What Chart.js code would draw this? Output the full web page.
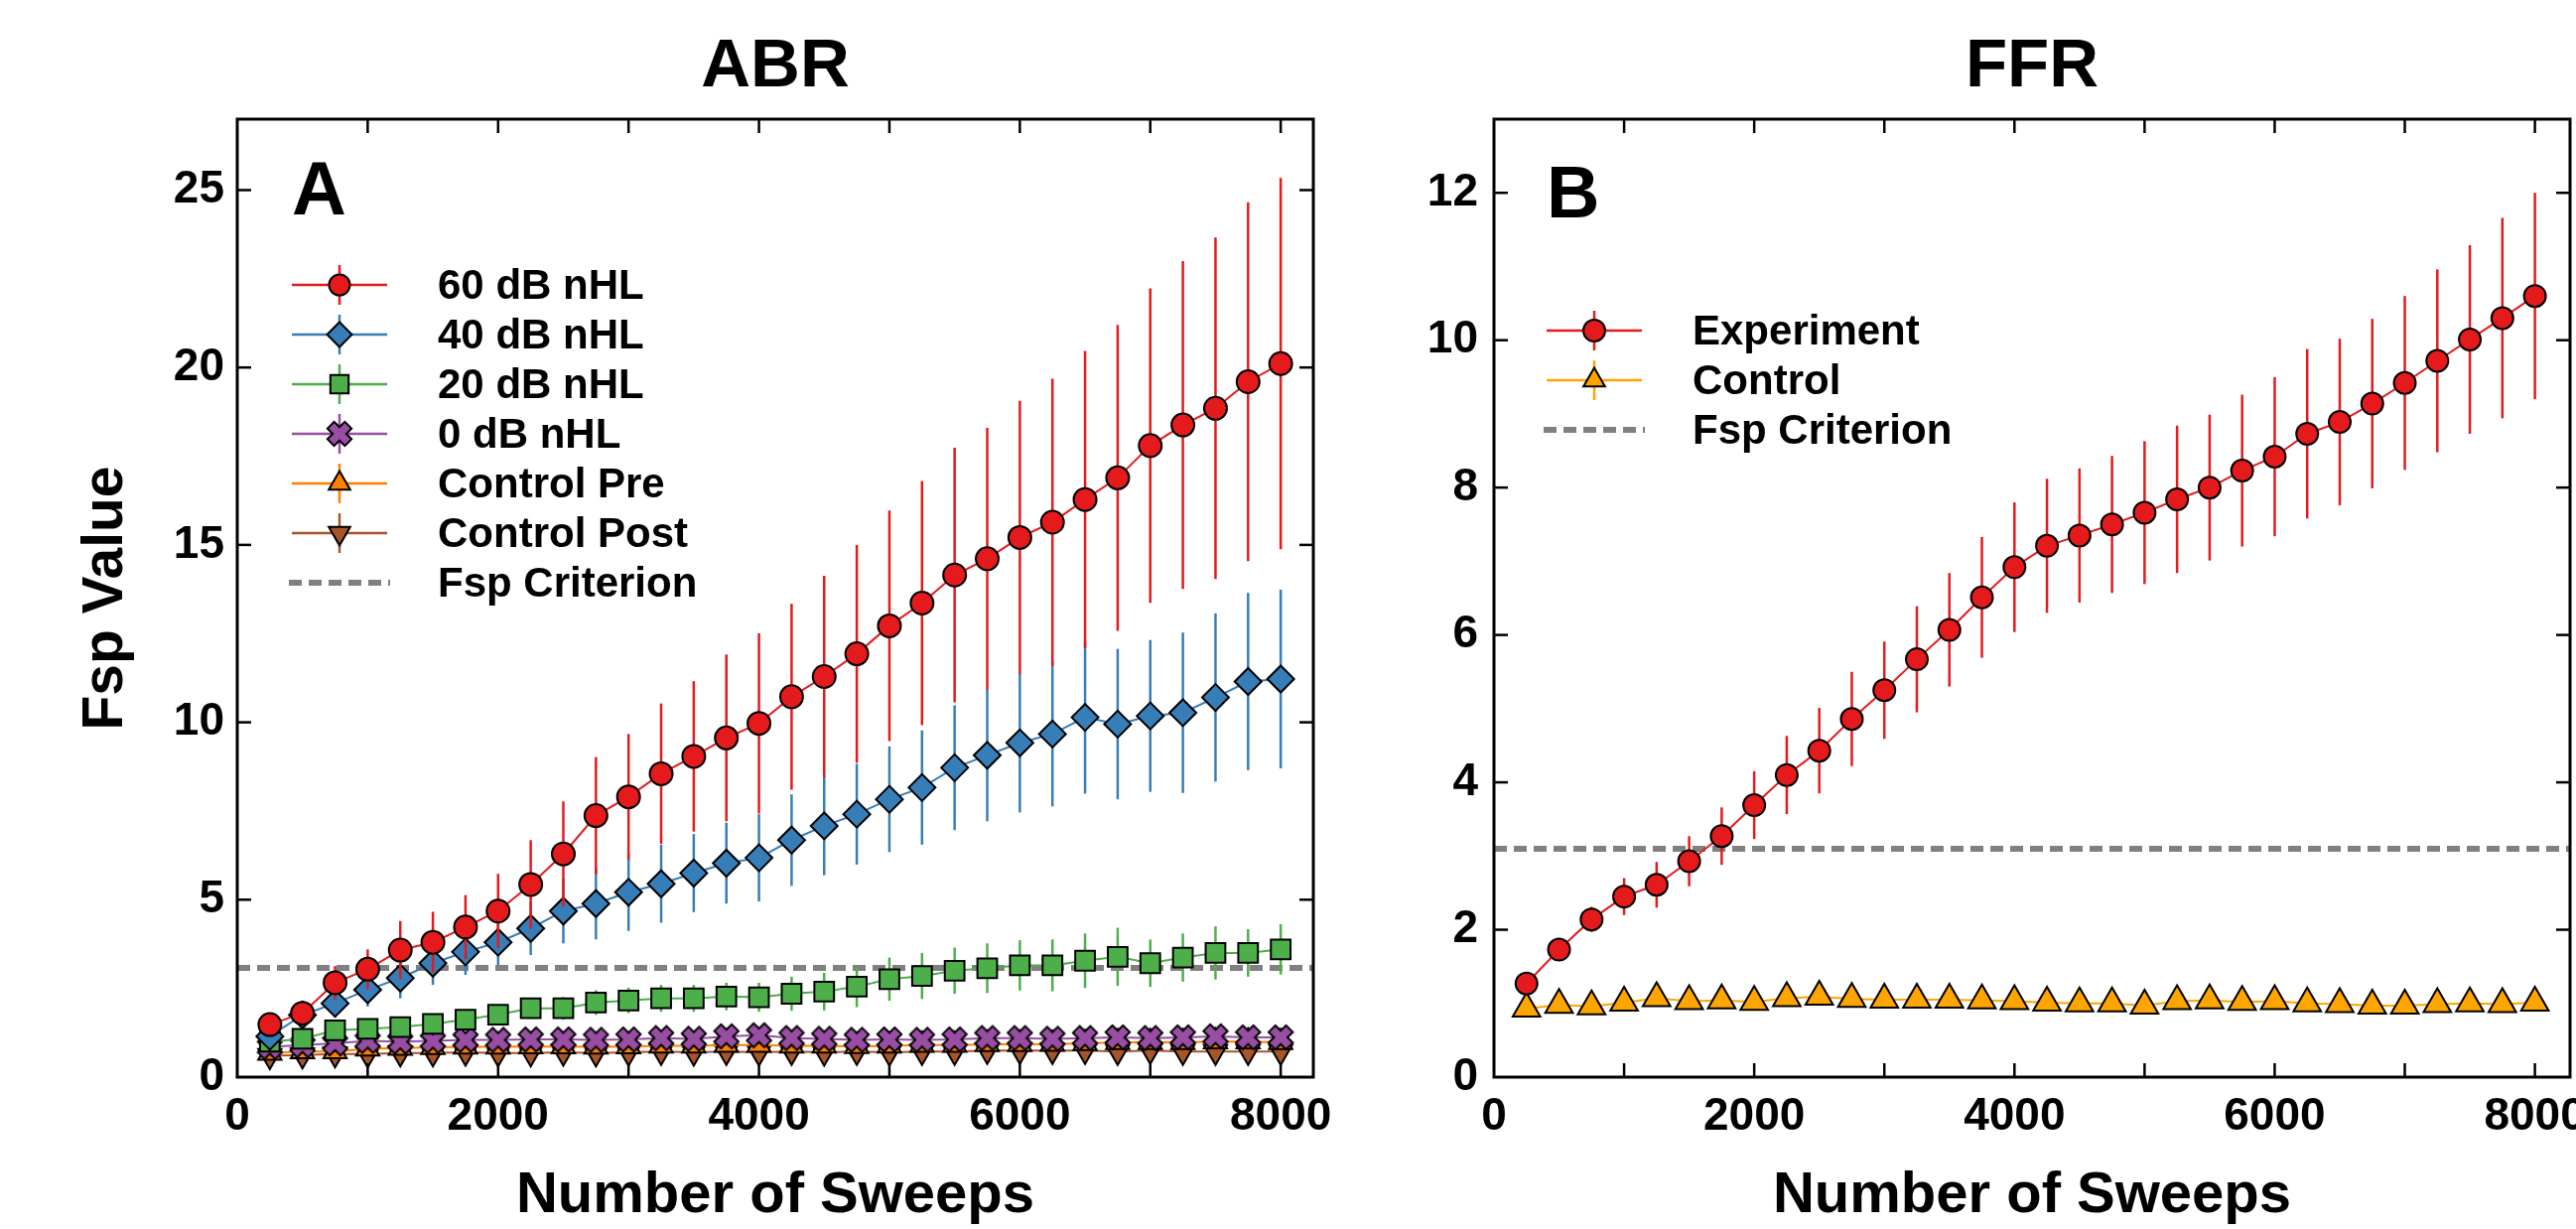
<!DOCTYPE html>
<html><head><meta charset="utf-8">
<script src="https://cdn.jsdelivr.net/npm/chart.js"></script>
<style>
html,body{margin:0;padding:0;background:#fff;}
body{width:2595px;height:1238px;overflow:hidden;position:relative;font-family:'Liberation Sans',Arial,Helvetica,sans-serif;}
canvas.chart{position:absolute;top:0;}
.lg{position:absolute;font-weight:bold;font-size:42px;line-height:50px;height:50px;white-space:nowrap;color:#000;}
.panel{position:absolute;font-weight:bold;line-height:1;color:#000;}
</style></head><body>
<canvas id="abr" class="chart" width="1370" height="1238" style="left:0px"></canvas>
<canvas id="ffr" class="chart" width="1240" height="1238" style="left:1380px"></canvas>
<script>
// ---------------- DATA ----------------
const sweeps = [250,500,750,1000,1250,1500,1750,2000,2250,2500,2750,3000,3250,3500,3750,4000,
                4250,4500,4750,5000,5250,5500,5750,6000,6250,6500,6750,7000,7250,7500,7750,8000];

const abrNames = ['60 dB nHL','40 dB nHL','20 dB nHL','0 dB nHL','Control Pre','Control Post'];
const criterionName = 'Fsp Criterion';

const abr60 = [1.48,1.80,2.66,3.04,3.58,3.80,4.23,4.68,5.43,6.29,7.37,7.90,8.55,9.04,9.56,9.97,
               10.72,11.29,11.93,12.72,13.36,14.15,14.61,15.21,15.64,16.28,16.89,17.80,18.38,18.85,19.60,20.11];
const abr60Err = [0.20,0.30,0.47,0.56,0.82,0.86,0.90,1.05,1.25,1.48,1.65,1.77,1.98,2.12,2.35,2.54,
                  2.62,2.84,3.07,3.25,3.44,3.59,3.69,3.85,4.04,4.19,4.31,4.43,4.62,4.81,5.06,5.23];

const abr40 = [1.15,1.75,2.08,2.46,2.79,3.21,3.53,3.80,4.19,4.68,4.89,5.21,5.45,5.75,6.03,6.18,
               6.68,7.08,7.41,7.83,8.16,8.72,9.07,9.42,9.67,10.14,9.95,10.18,10.27,10.70,11.15,11.22];
const abr40Err = [0.15,0.30,0.40,0.47,0.57,0.61,0.65,0.64,0.75,0.91,1.01,1.09,1.10,1.10,1.14,1.23,
                  1.29,1.39,1.42,1.49,1.61,1.76,1.86,1.96,2.04,2.15,2.12,2.14,2.26,2.37,2.50,2.52];

const abr20 = [1.00,1.08,1.32,1.36,1.41,1.50,1.62,1.76,1.94,1.94,2.10,2.16,2.22,2.22,2.27,2.25,
               2.35,2.41,2.55,2.76,2.85,3.00,3.07,3.15,3.15,3.28,3.39,3.21,3.37,3.50,3.50,3.60];
const abr20Err = [0.10,0.12,0.15,0.18,0.20,0.22,0.25,0.28,0.30,0.32,0.35,0.36,0.38,0.38,0.39,0.41,
                  0.48,0.53,0.58,0.61,0.65,0.65,0.70,0.71,0.73,0.77,0.82,0.67,0.68,0.75,0.67,0.71];

const abr0 = [0.85,0.90,0.95,1.02,1.00,1.02,1.05,1.05,1.06,1.06,1.05,1.06,1.10,1.08,1.15,1.18,
              1.10,1.08,1.05,1.06,1.05,1.06,1.10,1.10,1.08,1.10,1.12,1.10,1.12,1.15,1.12,1.12];
const abr0Err = [0.10,0.10,0.12,0.12,0.13,0.13,0.14,0.14,0.14,0.15,0.15,0.15,0.15,0.15,0.16,0.16,
                 0.16,0.16,0.16,0.17,0.17,0.17,0.17,0.18,0.18,0.18,0.18,0.18,0.19,0.19,0.19,0.20];

const ctrlPre = [0.68,0.72,0.72,0.80,0.82,0.84,0.85,0.85,0.86,0.86,0.85,0.86,0.88,0.88,0.90,0.90,
                 0.88,0.88,0.87,0.88,0.90,0.90,0.92,0.92,0.93,0.95,0.98,0.98,0.98,1.00,1.00,0.98];
const ctrlPreErr = [0.08,0.08,0.09,0.09,0.10,0.10,0.10,0.10,0.10,0.10,0.11,0.11,0.11,0.11,0.11,0.12,
                    0.12,0.12,0.12,0.12,0.12,0.12,0.13,0.13,0.13,0.13,0.13,0.13,0.13,0.14,0.14,0.14];

const ctrlPost = [0.60,0.62,0.65,0.65,0.68,0.68,0.70,0.68,0.68,0.70,0.68,0.70,0.72,0.70,0.72,0.70,
                  0.72,0.70,0.72,0.70,0.72,0.72,0.75,0.75,0.75,0.75,0.72,0.75,0.72,0.72,0.72,0.72];
const ctrlPostErr = [0.15,0.16,0.17,0.18,0.18,0.19,0.19,0.20,0.20,0.20,0.20,0.21,0.21,0.21,0.21,0.22,
                     0.22,0.22,0.22,0.22,0.23,0.23,0.23,0.23,0.23,0.24,0.24,0.24,0.24,0.24,0.25,0.25];

const abrCriterion = 3.08;

const ffrNames = ['Experiment','Control'];
const ffrExp = [1.27,1.73,2.14,2.45,2.61,2.93,3.27,3.69,4.10,4.43,4.86,5.25,5.67,6.07,6.51,6.92,
                7.21,7.35,7.50,7.66,7.84,8.00,8.23,8.42,8.73,8.89,9.14,9.42,9.72,10.01,10.30,10.60];
const ffrExpErr = [0.05,0.08,0.17,0.25,0.31,0.34,0.39,0.46,0.53,0.58,0.64,0.66,0.72,0.77,0.82,0.88,
                   0.91,0.91,0.93,0.97,1.00,0.99,1.03,1.08,1.15,1.13,1.15,1.18,1.24,1.28,1.36,1.40];
const ffrCtrl = [0.93,0.98,0.96,1.01,1.07,1.03,1.04,1.02,1.07,1.09,1.06,1.05,1.05,1.05,1.04,1.03,
                 1.01,1.00,1.00,0.97,1.03,1.04,1.02,1.03,1.00,0.99,0.97,0.97,0.99,1.00,0.99,1.01];
const ffrCtrlErr = [0.05,0.05,0.05,0.05,0.05,0.05,0.05,0.05,0.05,0.05,0.05,0.05,0.05,0.05,0.05,0.05,
                    0.05,0.05,0.05,0.05,0.05,0.05,0.05,0.05,0.05,0.05,0.05,0.05,0.05,0.05,0.05,0.05];
const ffrCriterion = 3.10;

// tick labels / tick positions
const xTickMarks = [1000,2000,3000,4000,5000,6000,7000,8000];
const xTickLabels = [0,2000,4000,6000,8000];
const abrYTicks = [0,5,10,15,20,25];
const ffrYTicks = [0,2,4,6,8,10,12];
const titles = {abr:'ABR', ffr:'FFR', x:'Number of Sweeps', y:'Fsp Value', abrPanel:'A', ffrPanel:'B'};

// ---------------- STYLE ----------------
const FONT = "'Liberation Sans', Arial, Helvetica, sans-serif";
Chart.defaults.font.family = FONT;
Chart.defaults.color = '#000';

function xMarker(fill){
  const c = document.createElement('canvas'); c.width = 34; c.height = 34;
  const g = c.getContext('2d'); const a = 4.8, L = 12.4;
  const pts = [[a,L],[a,a],[L,a],[L,-a],[a,-a],[a,-L],[-a,-L],[-a,-a],[-L,-a],[-L,a],[-a,a],[-a,L]];
  g.translate(17,17); g.rotate(Math.PI/4); g.beginPath();
  pts.forEach((p,i)=> i ? g.lineTo(p[0],p[1]) : g.moveTo(p[0],p[1]));
  g.closePath(); g.fillStyle = fill; g.fill(); g.lineWidth = 2; g.strokeStyle = '#000'; g.stroke();
  return c;
}
const purpleX = xMarker('#984ea3');

const abrStyles = [
  {color:'#e41a1c', style:'circle',   radius:11.5},
  {color:'#377eb8', style:'rectRot',  radius:13.5},
  {color:'#4daf4a', style:'rect',     radius:14},
  {color:'#984ea3', style:purpleX,    radius:12},
  {color:'#ff7f00', style:'triangle', radius:13.5},
  {color:'#a65628', style:'triangle', radius:13.5, rotation:180}
];
const ffrStyles = [
  {color:'#e41a1c', style:'circle',   radius:11, legendRadius:11},
  {color:'#ffa500', style:'triangle', radius:16, legendRadius:12.5}
];
const critStyle = {color:'#808080', width:6, dash:[13,7]};

function seriesDataset(name, values, errors, st){
  return {
    label: name,
    data: sweeps.map((s,i)=>({x:s, y:values[i]})),
    errors: errors, errorColor: st.color, errorWidth: 2.5,
    borderColor: st.color, backgroundColor: st.color, borderWidth: 2,
    pointStyle: st.style, pointRadius: st.radius, pointRotation: st.rotation || 0,
    pointBackgroundColor: st.color, pointBorderColor: '#000', pointBorderWidth: 2,
    tension: 0, fill: false
  };
}
function criterionDataset(value, xMax){
  return {
    label: criterionName,
    data: [{x:0, y:value}, {x:xMax, y:value}],
    borderColor: critStyle.color, borderWidth: critStyle.width, borderDash: critStyle.dash,
    pointRadius: 0, fill: false, tension: 0
  };
}

// error bars drawn just before each dataset, through the chart's scales
const errorBarPlugin = {
  id: 'errorBars',
  beforeDatasetDraw(chart, args){
    const ds = chart.data.datasets[args.index];
    if (!ds.errors) return;
    const meta = args.meta, xs = chart.scales[meta.xAxisID], ys = chart.scales[meta.yAxisID];
    const ctx = chart.ctx, ca = chart.chartArea;
    ctx.save();
    ctx.beginPath(); ctx.rect(ca.left, ca.top, ca.right-ca.left, ca.bottom-ca.top); ctx.clip();
    ctx.strokeStyle = ds.errorColor; ctx.lineWidth = ds.errorWidth;
    ds.data.forEach((p,i)=>{
      const e = ds.errors[i], x = xs.getPixelForValue(p.x);
      ctx.beginPath();
      ctx.moveTo(x, ys.getPixelForValue(p.y - e));
      ctx.lineTo(x, ys.getPixelForValue(p.y + e));
      ctx.stroke();
    });
    ctx.restore();
  }
};
// frame and inward tick marks on all four sides
const frameTicksPlugin = {
  id: 'frameTicks',
  afterDatasetsDraw(chart, args, opts){
    const ctx = chart.ctx, ca = chart.chartArea, xs = chart.scales.x, ys = chart.scales.y;
    const L = 14;
    ctx.save(); ctx.strokeStyle = '#000';
    ctx.lineWidth = 2.5;
    const seg = (a,b,c,d)=>{ctx.beginPath(); ctx.moveTo(a,b); ctx.lineTo(c,d); ctx.stroke();};
    (opts.xTicks||[]).forEach(v=>{
      const px = xs.getPixelForValue(v);
      if (px <= ca.left+1 || px >= ca.right-1) return;
      seg(px, ca.bottom, px, ca.bottom - L); seg(px, ca.top, px, ca.top + L);
    });
    (opts.yTicks||[]).forEach(v=>{
      const py = ys.getPixelForValue(v);
      if (py >= ca.bottom-1 || py <= ca.top+1) return;
      seg(ca.left, py, ca.left + L, py); seg(ca.right, py, ca.right - L, py);
    });
    ctx.lineWidth = 3;
    ctx.strokeRect(ca.left, ca.top, ca.right-ca.left, ca.bottom-ca.top);
    ctx.restore();
  }
};

function makeChart(id, title, datasets, xMax, yMax, yTicks, yWidth, yTickPad, rightPad, yTitle){
  return new Chart(document.getElementById(id), {
    type: 'line',
    data: {datasets},
    options: {
      responsive: false, animation: false, devicePixelRatio: 1, events: [],
      layout: {padding: {left: 0, right: rightPad, top: 0, bottom: 0}},
      plugins: {
        legend: {display: false}, tooltip: {enabled: false},
        title: {display: true, text: title, color: '#000', fullSize: false,
                font: {size: 69, weight: 'bold', family: FONT}, padding: {top: 27, bottom: 10.2}},
        frameTicks: {xTicks: xTickMarks, yTicks: yTicks}
      },
      scales: {
        x: {
          type: 'linear', min: 0, max: xMax,
          grid: {display: false, drawTicks: false}, border: {display: false},
          afterBuildTicks: s => { s.ticks = xTickLabels.map(v => ({value: v})); },
          ticks: {font: {size: 46, weight: 'bold'}, color: '#000', padding: 13, maxRotation: 0, autoSkip: false,
                  callback: v => String(v)},
          title: {display: true, text: titles.x, color: '#000',
                  font: {size: 58, weight: 'bold', lineHeight: 1}, padding: {top: 0, bottom: 4}},
          afterFit: s => { s.height = 153; }
        },
        y: {
          type: 'linear', min: 0, max: yMax,
          grid: {display: false, drawTicks: false}, border: {display: false},
          afterBuildTicks: s => { s.ticks = yTicks.map(v => ({value: v})); },
          ticks: {font: {size: 46, weight: 'bold'}, color: '#000', padding: yTickPad, autoSkip: false,
                  callback: v => String(v)},
          title: {display: !!yTitle, text: yTitle || '', color: '#000',
                  font: {size: 57, weight: 'bold', lineHeight: 1.2}, padding: {top: 73, bottom: 0}},
          afterFit: s => { s.width = yWidth; }
        }
      }
    },
    plugins: [errorBarPlugin, frameTicksPlugin]
  });
}

const abrXMax = 8250, ffrXMax = 8270;
const abrSeriesValues = [abr60, abr40, abr20, abr0, ctrlPre, ctrlPost];
const abrSeriesErrors = [abr60Err, abr40Err, abr20Err, abr0Err, ctrlPreErr, ctrlPostErr];
const abrDatasets = abrNames.map((n,i)=> seriesDataset(n, abrSeriesValues[i], abrSeriesErrors[i], abrStyles[i]));
abrDatasets.push(criterionDataset(abrCriterion, abrXMax));
const ffrDatasets = [
  seriesDataset(ffrNames[0], ffrExp, ffrExpErr, ffrStyles[0]),
  seriesDataset(ffrNames[1], ffrCtrl, ffrCtrlErr, ffrStyles[1]),
  criterionDataset(ffrCriterion, ffrXMax)
];

const abrChart = makeChart('abr', titles.abr, abrDatasets, abrXMax, 27, abrYTicks, 239, 13, 47, titles.y);
const ffrChart = makeChart('ffr', titles.ffr, ffrDatasets, ffrXMax, 13, ffrYTicks, 125, 16, 31, null);

// ---------------- LEGENDS (HTML text, icons in small canvases) ----------------
function drawMarker(g, st, r, x, y){
  g.save();
  g.fillStyle = st.color; g.strokeStyle = '#000'; g.lineWidth = 2;
  if (Chart.helpers && Chart.helpers.drawPoint) {
    Chart.helpers.drawPoint(g, {pointStyle: st.style, radius: r, rotation: st.rotation || 0, borderWidth: 2}, x, y);
  } else {
    g.beginPath(); g.arc(x, y, r, 0, Math.PI*2); g.fill(); g.stroke();
  }
  g.restore();
}
function addLegend(chart, canvasLeft, items, offX, offY, textOff){
  const ca = chart.chartArea;
  items.forEach((it, i)=>{
    const cy = ca.top + offY + i*50;
    const icon = document.createElement('canvas'); icon.width = 110; icon.height = 50;
    icon.style.cssText = 'position:absolute;left:' + (canvasLeft + ca.left + offX - 7) + 'px;top:' + (cy - 25) + 'px';
    const g = icon.getContext('2d');
    if (it.dash) {
      g.strokeStyle = critStyle.color; g.lineWidth = critStyle.width; g.setLineDash(critStyle.dash);
      g.beginPath(); g.moveTo(4, 25); g.lineTo(106, 25); g.stroke();
    } else {
      g.strokeStyle = it.st.color; g.lineWidth = 2.5;
      g.beginPath(); g.moveTo(7, 25); g.lineTo(103, 25); g.stroke();
      g.beginPath(); g.moveTo(55, 5); g.lineTo(55, 45); g.stroke();
      drawMarker(g, it.st, it.r, 55, 25);
    }
    document.body.appendChild(icon);
    const t = document.createElement('div'); t.className = 'lg'; t.textContent = it.label;
    t.style.left = (canvasLeft + ca.left + offX + textOff) + 'px'; t.style.top = (cy - 25) + 'px';
    document.body.appendChild(t);
  });
}
addLegend(abrChart, 0,
  abrNames.map((n,i)=>({label:n, st:abrStyles[i], r:abrStyles[i].radius - 1})).concat([{label:criterionName, dash:true}]),
  55, 167, 147);
addLegend(ffrChart, 1380,
  ffrNames.map((n,i)=>({label:n, st:ffrStyles[i], r:ffrStyles[i].legendRadius})).concat([{label:criterionName, dash:true}]),
  53, 213, 147);

function addPanel(chart, canvasLeft, text, offX, capTop, size){
  const d = document.createElement('div'); d.className = 'panel'; d.textContent = text;
  d.style.fontSize = size + 'px';
  d.style.left = (canvasLeft + chart.chartArea.left + offX) + 'px';
  d.style.top = (capTop - 0.13 * size) + 'px';
  document.body.appendChild(d);
}
addPanel(abrChart, 0, titles.abrPanel, 55, 162, 76);
addPanel(ffrChart, 1380, titles.ffrPanel, 53, 167, 74);
</script>
</body></html>
